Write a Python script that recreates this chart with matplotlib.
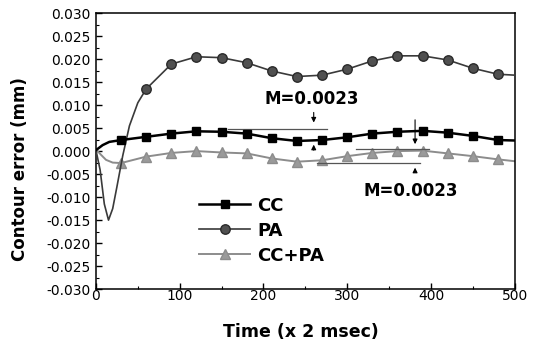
import matplotlib
matplotlib.use("Agg")
import matplotlib.pyplot as plt
from matplotlib.ticker import MultipleLocator

plt.rcParams['font.family'] = ['DejaVu Sans']

# ---- data ----
t_cc = [0, 8, 16, 30, 60, 90, 120, 150, 180, 210, 240, 270, 300, 330, 360, 390, 420, 450, 480, 500]
cc   = [0.0002, 0.0013, 0.0020, 0.0024, 0.0031, 0.0038, 0.0043, 0.0042, 0.0038, 0.0028, 0.0022,
        0.0024, 0.0030, 0.0038, 0.0042, 0.0044, 0.0040, 0.0033, 0.0024, 0.0023]

t_pa = [0, 5, 10, 15, 20, 25, 32, 40, 50, 60, 90, 120, 150, 180, 210, 240, 270, 300, 330, 360,
        390, 420, 450, 480, 500]
pa   = [0.0002, -0.0041, -0.0115, -0.0150, -0.0125, -0.0078, -0.0010, 0.0055, 0.0105, 0.0135,
        0.0189, 0.0205, 0.0203, 0.0192, 0.0174, 0.0162, 0.0165, 0.0178, 0.0196, 0.0207,
        0.0207, 0.0198, 0.0180, 0.0167, 0.0165]

t_ccpa = [0, 6, 12, 20, 30, 60, 90, 120, 150, 180, 210, 240, 270, 300, 330, 360, 390, 420, 450, 480, 500]
ccpa   = [0.0004, -0.0008, -0.0019, -0.0025, -0.0026, -0.0012, -0.0004, 0.0000, -0.0003, -0.0005,
          -0.0016, -0.0023, -0.0020, -0.0011, -0.0004, 0.0000, 0.0001, -0.0005, -0.0011, -0.0018, -0.0022]

marker_times = [30, 60, 90, 120, 150, 180, 210, 240, 270, 300, 330, 360, 390, 420, 450, 480]

labels = ["CC", "PA", "CC+PA"]
annot_text = "M=0.0023"

x_ticks = [0, 100, 200, 300, 400, 500]
y_ticks = [-0.030, -0.025, -0.020, -0.015, -0.010, -0.005, 0.000, 0.005, 0.010, 0.015, 0.020, 0.025, 0.030]


def mark_idx(ts):
    return [i for i, t in enumerate(ts) if t in marker_times]


fig = plt.figure(figsize=(5.39, 3.43), dpi=100)
ax = fig.add_axes([0.178, 0.157, 0.777, 0.805])

h_ccpa, = ax.plot(t_ccpa, ccpa, color='#8c8c8c', lw=1.4, marker='^', ms=7, mfc='#9a9a9a', mec='#8c8c8c',
                  markevery=mark_idx(t_ccpa), zorder=2)
h_pa, = ax.plot(t_pa, pa, color='#3a3a3a', lw=1.2, marker='o', ms=6.8, mfc='#505050', mec='#2a2a2a',
                markevery=mark_idx(t_pa), zorder=3)
h_cc, = ax.plot(t_cc, cc, color='black', lw=1.8, marker='s', ms=6, mfc='black', mec='black',
                markevery=mark_idx(t_cc), zorder=4)

arrow_kw = dict(arrowstyle='-|>', color='black', lw=0.8, mutation_scale=7)

# annotation 1 (CC)
ax.plot([158, 276], [0.0048, 0.0048], color='#555555', lw=0.9)
ax.annotate("", xy=(260, 0.0056), xytext=(260, 0.0090), arrowprops=arrow_kw)
ax.annotate("", xy=(260, 0.0020), xytext=(260, -0.0004), arrowprops=arrow_kw)
ax.text(258, 0.0114, annot_text, ha='center', va='center', fontsize=12, fontweight='bold')

# annotation 2 (CC+PA)
ax.plot([311, 398], [0.0004, 0.0004], color='#555555', lw=0.9)
ax.plot([264, 387], [-0.0026, -0.0026], color='#555555', lw=0.9)
ax.annotate("", xy=(381, 0.0009), xytext=(381, 0.0074), arrowprops=arrow_kw)
ax.annotate("", xy=(381, -0.0030), xytext=(381, -0.0052), arrowprops=arrow_kw)
ax.text(376, -0.0087, annot_text, ha='center', va='center', fontsize=12, fontweight='bold')

ax.set_xlim(0, 500)
ax.set_ylim(-0.030, 0.030)
ax.set_xticks(x_ticks)
ax.set_yticks(y_ticks)
ax.set_yticklabels([f"{v:.3f}" for v in y_ticks])
ax.xaxis.set_minor_locator(MultipleLocator(50))
ax.yaxis.set_minor_locator(MultipleLocator(0.0025))
ax.tick_params(axis='both', which='both', direction='in', labelsize=10)
ax.tick_params(axis='both', which='major', length=4, width=1)
ax.tick_params(axis='both', which='minor', length=2, width=0.8)
ax.tick_params(axis='x', pad=0)
ax.tick_params(axis='y', pad=4)
for s in ax.spines.values():
    s.set_linewidth(1.1)

ax.set_xlabel("Time (x 2 msec)", fontsize=12.5, fontweight='bold')
ax.set_ylabel("Contour error (mm)", fontsize=12, fontweight='bold')
ax.xaxis.set_label_coords(0.49, -0.122)
ax.yaxis.set_label_coords(-0.16, 0.435)

ax.legend([h_cc, h_pa, h_ccpa], labels, loc='lower left',
          bbox_to_anchor=(0.208, 0.03), frameon=False, prop=dict(size=13, weight='bold'),
          handlelength=2.8, handletextpad=0.4, labelspacing=0.39)

fig.savefig("out.png", dpi=100)
